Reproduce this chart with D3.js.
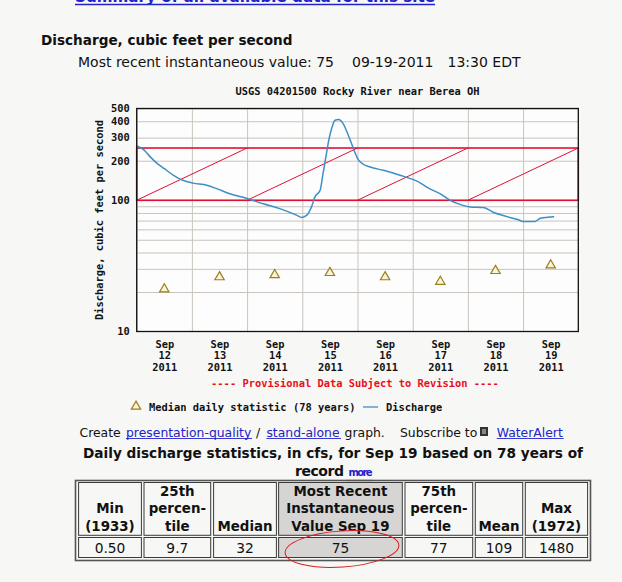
<!DOCTYPE html>
<html>
<head>
<meta charset="utf-8">
<script src="https://cdn.jsdelivr.net/npm/d3@7"></script>
<style>
  body { margin: 0; background: #f7f7f5; }
  svg { display: block; }
  .page { font-family: "DejaVu Sans", Verdana, sans-serif; fill: #111; }
  .mono { font-family: "DejaVu Sans Mono", monospace; font-weight: bold; font-size: 10.4px; fill: #111; }
  .link { fill: #2222cc; }
  .grid line { stroke: #c9c4be; stroke-width: 1; }
  .grid path { display: none; }
</style>
</head>
<body>
<div id="page"></div>
<script>
// ---- data ----
const siteTitle = "USGS 04201500 Rocky River near Berea OH";
const yAxisTitle = "Discharge, cubic feet per second";

// instantaneous discharge (cfs)
const dischargeTimes = [
  "2011-09-12 00:00", "2011-09-12 03:00", "2011-09-12 06:00", "2011-09-12 09:00", "2011-09-12 12:00",
  "2011-09-12 16:00", "2011-09-12 20:00", "2011-09-13 00:30", "2011-09-13 06:30", "2011-09-13 11:00",
  "2011-09-13 16:30", "2011-09-14 00:00", "2011-09-14 07:00", "2011-09-14 14:30", "2011-09-14 21:30",
  "2011-09-14 23:45", "2011-09-15 02:00", "2011-09-15 04:00", "2011-09-15 05:30", "2011-09-15 07:45",
  "2011-09-15 09:00", "2011-09-15 10:30", "2011-09-15 11:30", "2011-09-15 12:45", "2011-09-15 14:15",
  "2011-09-15 15:45", "2011-09-15 17:45", "2011-09-15 20:00", "2011-09-15 22:15", "2011-09-16 00:15",
  "2011-09-16 02:30", "2011-09-16 05:30", "2011-09-16 11:15", "2011-09-16 18:30", "2011-09-17 02:30",
  "2011-09-17 07:30", "2011-09-17 12:00", "2011-09-17 16:15", "2011-09-17 20:30", "2011-09-18 01:00",
  "2011-09-18 06:45", "2011-09-18 11:00", "2011-09-18 17:00", "2011-09-18 22:00", "2011-09-19 00:00",
  "2011-09-19 05:15", "2011-09-19 07:30", "2011-09-19 13:30"
];
const dischargeValues = [
  259, 243, 213, 190, 174,
  155, 142, 135, 130, 122,
  112, 103, 94, 86, 77,
  74, 77, 89, 106, 119,
  159, 227, 286, 352, 407,
  412, 384, 313, 247, 205,
  188, 179, 169, 155, 138,
  122, 112, 100, 93, 89,
  88, 81, 75, 71, 69,
  69, 73, 75
];

// median daily statistic (78 years), plotted at noon
const medianDays = ["2011-09-12", "2011-09-13", "2011-09-14", "2011-09-15", "2011-09-16", "2011-09-17", "2011-09-18", "2011-09-19"];
const medianValues = [21, 26, 27, 28, 26, 24, 29, 32];

// hand-drawn red band annotation
const bandRange = [100, 250];
const bandHatchStarts = ["2011-09-12", "2011-09-14", "2011-09-16", "2011-09-18"];

const yTickValues = [10, 100, 200, 300, 400, 500];
const yGridValues = [20, 30, 40, 50, 60, 70, 80, 90, 100, 200, 300, 400, 500];
const xDomain = ["2011-09-12", "2011-09-20"];

// daily statistics table
const statHeaders = [
  ["Min", "(1933)"], ["25th", "percen-", "tile"], ["Median"],
  ["Most Recent", "Instantaneous", "Value Sep 19"],
  ["75th", "percen-", "tile"], ["Mean"], ["Max", "(1972)"]
];
const statValues = ["0.50", "9.7", "32", "75", "77", "109", "1480"];
const highlightCol = 3;

// ---- layout ----
const W = 622, H = 582;
const plot = { left: 136.7, right: 578.3, top: 108.5, bottom: 331.5 };
const colEdges = [[78.6, 141.4], [144, 210.7], [213.6, 276.4], [278.6, 402.3], [405, 472.7], [475.3, 522.7], [525.3, 587.6]];

const parseTime = d3.timeParse("%Y-%m-%d %H:%M");
const parseDay = d3.timeParse("%Y-%m-%d");

const svg = d3.select("#page").append("svg")
  .attr("width", W).attr("height", H)
  .attr("viewBox", `0 0 ${W} ${H}`);

svg.append("rect").attr("width", W).attr("height", H).attr("fill", "#f7f7f5");

// top of page (link is cut by the top edge, as in the screenshot)
svg.append("text").attr("class", "page link")
  .attr("x", 75).attr("y", 1.5)
  .attr("font-size", 15).attr("font-weight", "bold")
  .attr("textLength", 360).attr("lengthAdjust", "spacingAndGlyphs")
  .text("Summary of all available data for this site");
svg.append("line").attr("x1", 75).attr("x2", 435).attr("y1", 4.5).attr("y2", 4.5)
  .attr("stroke", "#2222cc").attr("stroke-width", 1.5);

svg.append("text").attr("class", "page")
  .attr("x", 41).attr("y", 44.5)
  .attr("font-size", 13.6).attr("font-weight", "bold")
  .text("Discharge, cubic feet per second");

const recent = svg.append("text").attr("class", "page").attr("y", 66.5).attr("font-size", 14);
recent.append("tspan").attr("x", 78).text("Most recent instantaneous value: 75");
recent.append("tspan").attr("x", 352).text("09-19-2011");
recent.append("tspan").attr("x", 447.5).text("13:30 EDT");

// ---- chart ----
const x = d3.scaleTime()
  .domain(xDomain.map(parseDay))
  .range([plot.left, plot.right]);

const y = d3.scaleLog()
  .domain([10, 500])
  .range([plot.bottom, plot.top]);

const pw = plot.right - plot.left, ph = plot.bottom - plot.top;

svg.append("rect")
  .attr("x", plot.left).attr("y", plot.top)
  .attr("width", pw).attr("height", ph)
  .attr("fill", "#fdfdfd");

svg.append("text").attr("class", "mono")
  .attr("x", (plot.left + plot.right) / 2).attr("y", 94.5)
  .attr("text-anchor", "middle")
  .text(siteTitle);

svg.append("g")
  .attr("class", "grid")
  .attr("transform", `translate(${plot.left},0)`)
  .call(d3.axisLeft(y).tickValues(yGridValues).tickSize(-pw).tickFormat(""));

const midnights = d3.timeDay.range(x.domain()[0], x.domain()[1]);
svg.append("g")
  .attr("class", "grid vgrid")
  .attr("transform", `translate(0,${plot.bottom})`)
  .call(d3.axisBottom(x).tickValues(midnights).tickSize(-ph).tickFormat(""));
svg.selectAll(".vgrid line").attr("stroke", "#bdb5ae");

// red band annotation
const bandG = svg.append("g").attr("stroke", "#dd1133").attr("fill", "none");
bandG.append("rect")
  .attr("x", plot.left).attr("width", pw)
  .attr("y", y(bandRange[1])).attr("height", y(bandRange[0]) - y(bandRange[1]))
  .attr("stroke-width", 1.6);
bandG.selectAll("line.hatch")
  .data(bandHatchStarts.map(parseDay))
  .join("line")
  .attr("class", "hatch")
  .attr("x1", d => x(d)).attr("y1", y(bandRange[0]))
  .attr("x2", d => x(d3.timeDay.offset(d, 2))).attr("y2", y(bandRange[1]))
  .attr("stroke-width", 1);

// median triangles
const tri = d3.symbol().type(d3.symbolTriangle).size(38);
svg.append("g")
  .selectAll("path")
  .data(medianDays.map((d, i) => ({ t: d3.timeHour.offset(parseDay(d), 12), v: medianValues[i] })))
  .join("path")
  .attr("d", tri)
  .attr("transform", d => `translate(${x(d.t)},${y(d.v)})`)
  .attr("fill", "#fbf3d6").attr("stroke", "#9a7f1e").attr("stroke-width", 1.2);

// discharge line
const dischargeData = dischargeTimes.map((t, i) => ({ t: parseTime(t), v: dischargeValues[i] }));
const line = d3.line()
  .x(d => x(d.t))
  .y(d => y(d.v))
  .curve(d3.curveMonotoneX);

svg.append("path")
  .datum(dischargeData)
  .attr("d", line)
  .attr("fill", "none")
  .attr("stroke", "#3d8fc4")
  .attr("stroke-width", 1.5);

// frame
svg.append("rect")
  .attr("x", plot.left).attr("y", plot.top)
  .attr("width", pw).attr("height", ph)
  .attr("fill", "none").attr("stroke", "#111").attr("stroke-width", 1.3);

// y axis labels
const yAxis = svg.append("g")
  .attr("transform", `translate(${plot.left - 7},0)`)
  .call(d3.axisLeft(y).tickValues(yTickValues).tickSize(0).tickPadding(0).tickFormat(d3.format("d")));
yAxis.select(".domain").remove();
yAxis.selectAll("text").attr("class", "mono").attr("font-size", null).attr("font-family", null);

svg.append("text").attr("class", "mono")
  .attr("transform", `translate(103,${(plot.top + plot.bottom) / 2}) rotate(-90)`)
  .attr("text-anchor", "middle")
  .text(yAxisTitle);

// x axis labels (noon of each day)
const noons = medianDays.map(d => d3.timeHour.offset(parseDay(d), 12));
const xAxis = svg.append("g")
  .attr("transform", `translate(0,${plot.bottom})`)
  .call(d3.axisBottom(x).tickValues(noons).tickSize(0).tickFormat(""));
xAxis.select(".domain").remove();
xAxis.selectAll(".tick").each(function (d) {
  const t = d3.select(this).append("text").attr("class", "mono").attr("text-anchor", "middle");
  [d3.timeFormat("%b")(d), d3.timeFormat("%-d")(d), d3.timeFormat("%Y")(d)].forEach((s, i) => {
    t.append("tspan").attr("x", 0).attr("y", 16.5 + i * 11.4).text(s);
  });
});

svg.append("text").attr("class", "mono")
  .attr("x", 355).attr("y", 387)
  .attr("text-anchor", "middle")
  .style("fill", "#e8101c")
  .text("---- Provisional Data Subject to Revision ----");

// legend
svg.append("path").attr("d", tri)
  .attr("transform", "translate(136,406.5)")
  .attr("fill", "#fbf3d6").attr("stroke", "#9a7f1e").attr("stroke-width", 1.2);
svg.append("text").attr("class", "mono").attr("x", 149).attr("y", 411)
  .text("Median daily statistic (78 years)");
svg.append("line").attr("x1", 363).attr("x2", 378).attr("y1", 407).attr("y2", 407)
  .attr("stroke", "#3d8fc4").attr("stroke-width", 1.3);
svg.append("text").attr("class", "mono").attr("x", 386).attr("y", 411).text("Discharge");

// ---- links line ----
const fs = 12.4;
svg.append("text").attr("class", "page").attr("x", 79.5).attr("y", 436.5).attr("font-size", fs).text("Create");
svg.append("text").attr("class", "page link").attr("x", 126).attr("y", 436.5).attr("font-size", fs)
  .text("presentation-quality");
svg.append("text").attr("class", "page").attr("x", 256).attr("y", 436.5).attr("font-size", fs).text("/");
svg.append("text").attr("class", "page link").attr("x", 266.4).attr("y", 436.5).attr("font-size", fs)
  .text("stand-alone");
svg.append("text").attr("class", "page").attr("x", 344.6).attr("y", 436.5).attr("font-size", fs)
  .text("graph.");
svg.append("text").attr("class", "page").attr("x", 400).attr("y", 436.5).attr("font-size", fs)
  .text("Subscribe to");
svg.append("rect").attr("x", 480).attr("y", 427).attr("width", 8).attr("height", 9).attr("fill", "#333");
svg.append("rect").attr("x", 482).attr("y", 429).attr("width", 4).attr("height", 5).attr("fill", "#888");
svg.append("text").attr("class", "page link").attr("x", 496.7).attr("y", 436.5).attr("font-size", fs)
  .text("WaterAlert");
[[126, 252], [266.4, 341], [496.7, 563.7]].forEach(([a, b]) => {
  svg.append("line").attr("x1", a).attr("x2", b).attr("y1", 438.5).attr("y2", 438.5)
    .attr("stroke", "#2222cc").attr("stroke-width", 0.9);
});

// ---- statistics table ----
svg.append("text").attr("class", "page")
  .attr("x", 83).attr("y", 457.5).attr("font-size", 14).attr("font-weight", "bold")
  .attr("textLength", 500).attr("lengthAdjust", "spacingAndGlyphs")
  .text("Daily discharge statistics, in cfs, for Sep 19 based on 78 years of");
svg.append("text").attr("class", "page")
  .attr("x", 295).attr("y", 475.5).attr("font-size", 14).attr("font-weight", "bold")
  .attr("textLength", 49).text("record");
svg.append("text").attr("class", "page link")
  .attr("x", 348.6).attr("y", 475.5).attr("font-size", 10).attr("font-weight", "bold")
  .attr("textLength", 24).text("more");
svg.append("line").attr("x1", 346).attr("x2", 372.5).attr("y1", 480.5).attr("y2", 480.5)
  .attr("stroke", "#1a1a88").attr("stroke-width", 1.2);

const tableTop = 481, headBottom = 535.3, rowTop = 537.5, rowBottom = 557.5;
svg.append("rect").attr("x", 75.5).attr("y", tableTop - 0.5).attr("width", 515).attr("height", 80)
  .attr("fill", "none").attr("stroke", "#555").attr("stroke-width", 1.6);

const cols = svg.append("g").selectAll("g")
  .data(statHeaders.map((h, i) => ({ h, v: statValues[i], e: colEdges[i], i })))
  .join("g");

cols.append("rect")
  .attr("x", d => d.e[0]).attr("y", tableTop + 1.5)
  .attr("width", d => d.e[1] - d.e[0]).attr("height", headBottom - tableTop - 1.5)
  .attr("fill", d => d.i === highlightCol ? "#d6d5d3" : "#f7f7f5")
  .attr("stroke", "#3a3a3a").attr("stroke-width", 1);
cols.append("rect")
  .attr("x", d => d.e[0]).attr("y", rowTop)
  .attr("width", d => d.e[1] - d.e[0]).attr("height", rowBottom - rowTop)
  .attr("fill", d => d.i === highlightCol ? "#d6d5d3" : "#f7f7f5")
  .attr("stroke", "#3a3a3a").attr("stroke-width", 1);

cols.each(function (d) {
  const g = d3.select(this);
  const cx = (d.e[0] + d.e[1]) / 2;
  const n = d.h.length;
  d.h.forEach((s, k) => {
    g.append("text").attr("class", "page")
      .attr("x", cx).attr("y", 531 - (n - 1 - k) * 17.6)
      .attr("text-anchor", "middle")
      .attr("font-size", 13.4).attr("font-weight", "bold")
      .text(s);
  });
  g.append("text").attr("class", "page")
    .attr("x", cx).attr("y", 553)
    .attr("text-anchor", "middle")
    .attr("font-size", 13.8)
    .text(d.v);
});

// red ellipse around the most recent value
svg.append("ellipse")
  .attr("transform", "translate(342,549) rotate(-4)")
  .attr("rx", 57).attr("ry", 18)
  .attr("fill", "none").attr("stroke", "#d42020").attr("stroke-width", 1);
</script>
</body>
</html>
